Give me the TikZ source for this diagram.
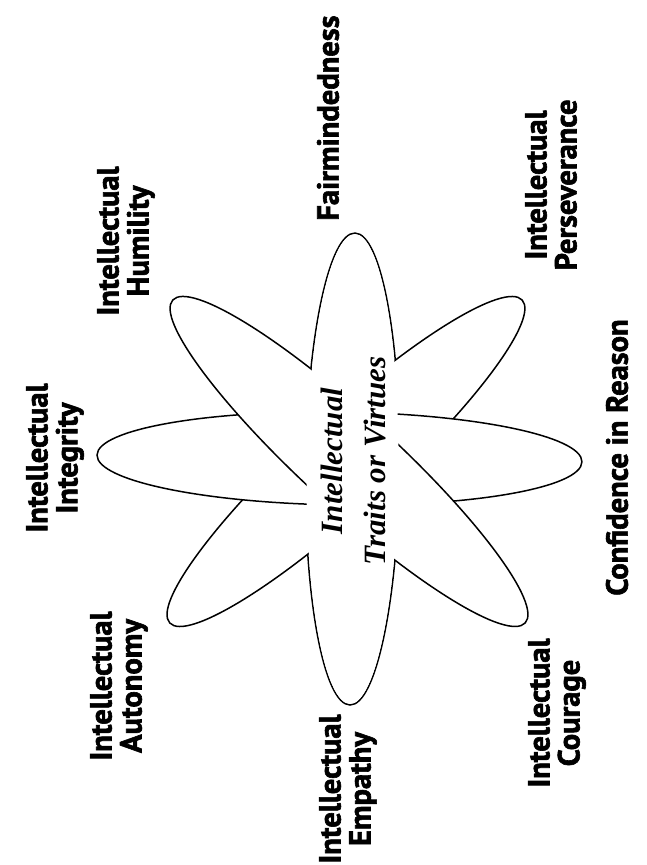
\documentclass[tikz,border=0pt]{standalone}
\usepackage{fontspec}
\setmainfont{Liberation Serif}
\newfontfamily\lblfont{PT Sans}[BoldFeatures={FakeBold=2}]
\newfontfamily\ctrfont{Liberation Serif}
\begin{document}
\begin{tikzpicture}[x=1pt,y=1pt]
\tikzset{
  petal/.style={draw=black, fill=white, line width=1.5pt},
  lbl/.style={font=\lblfont\bfseries\fontsize{30.5}{30}\selectfont, align=center, rotate=90, inner sep=0pt},
  ctr/.style={font=\ctrfont\bfseries\itshape\fontsize{31}{43}\selectfont, align=center, rotate=90, inner sep=0pt}
}
\useasboundingbox (0,0) rectangle (647,-865);
\fill[white] (0,0) rectangle (647,-865);
\coordinate (cV) at (352.5,-469);
\coordinate (cH) at (339.5,-458.5);
\coordinate (cA) at (349,-461.5);
\coordinate (cB) at (346,-461.5);
% vertical petal (bottom layer)
\draw[petal, rotate around={89.4:(cV)}] (cV) ellipse [x radius=236, y radius=47];
% Perseverance - Autonomy diagonal
\draw[petal, rotate around={42.5:(cB)}] (cB) ellipse [x radius=239, y radius=46];
% horizontal petal
\draw[petal, rotate around={-0.8:(cH)}] (cH) ellipse [x radius=242.5, y radius=46.5];
% Humility - Courage diagonal
\draw[petal, rotate around={-42.5:(cA)}] (cA) ellipse [x radius=239, y radius=46];
% clear the centre
\fill[white, rotate around={89.4:(cV)}] (cV) ellipse [x radius=234.8, y radius=45.9];
% centre text
\node[ctr] (centre) at (353,-461) {Intellectual\\Traits or Virtues};
% labels
\node[lbl] (fair) at (328,-118) {Fairmindedness};
\node[lbl] (hum) at (126,-241) {Intellectual\\Humility};
\node[lbl] (pers) at (551,-185) {Intellectual\\Perseverance};
\node[lbl] (integ) at (55,-458) {Intellectual\\Integrity};
\node[lbl] (conf) at (617,-457.5) {Confidence in Reason};
\node[lbl] (auto) at (119,-686) {Intellectual\\Autonomy};
\node[lbl] (cour) at (557,-713) {Intellectual\\Courage};
\node[lbl] (emp) at (348,-789) {Intellectual\\Empathy};
\end{tikzpicture}
\end{document}
